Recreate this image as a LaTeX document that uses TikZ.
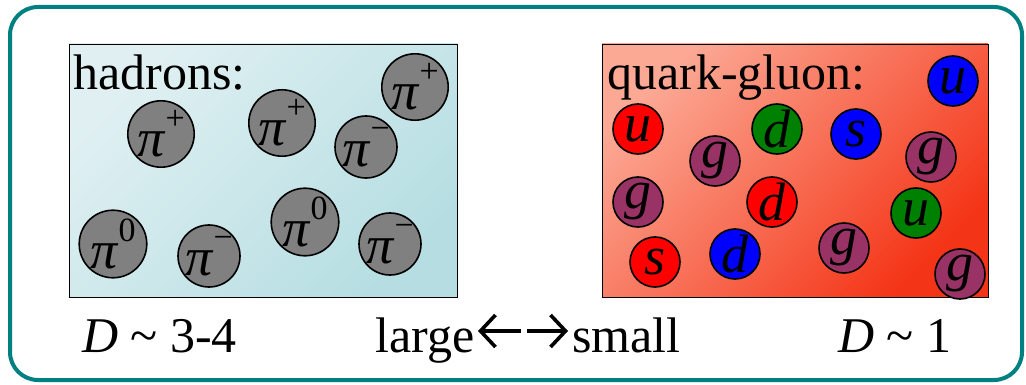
\documentclass[tikz,border=0pt]{standalone}
\usepackage{fontspec}
\setmainfont{Liberation Serif}
\usetikzlibrary{calc,arrows.meta}
\definecolor{frameteal}{RGB}{0,128,128}
\definecolor{hadlight}{RGB}{224,240,242}
\definecolor{haddark}{RGB}{182,222,226}
\definecolor{qgplight}{RGB}{251,168,148}
\definecolor{qgpdark}{RGB}{244,52,22}
\definecolor{gluon}{RGB}{153,51,102}
\definecolor{qgreen}{RGB}{0,128,0}
\definecolor{pgray}{RGB}{128,128,128}
\tikzset{
  big/.style={font=\fontsize{50}{60}\selectfont},
  pion/.style={circle, draw=black, line width=1.6pt, fill=pgray, minimum size=62pt, inner sep=0pt,
     font=\fontsize{54}{56}\selectfont},
  quark/.style={circle, draw=black, line width=1.6pt, minimum size=50pt, inner sep=0pt,
     font=\fontsize{54}{56}\selectfont\itshape},
  panel/.style={draw=black, line width=1.4pt},
  bigarrow/.style={line width=3.6pt, -{Straight Barb[length=15pt, width=32pt, line width=3.6pt]}}
}
\newcommand\pisup[1]{\textit{π}\raisebox{0.5em}{\fontsize{34}{34}\selectfont #1}}
\begin{document}
\begin{tikzpicture}[x=1pt,y=-1pt]
\useasboundingbox (0,0) rectangle (1026,385);
\fill[white] (0,0) rectangle (1026,385);
\draw[frameteal, line width=4pt, rounded corners=28pt] (10,7) rectangle (1022,380);
% left panel
\shade[top color=hadlight, bottom color=haddark, shading angle=45] (69,44) rectangle (457,297);
\node[panel, minimum width=388pt, minimum height=253pt, anchor=north west, inner sep=0pt] (hadbox) at (69,44) {};
\node[big, anchor=base west, inner sep=0pt] (hadlabel) at (73,90) {hadrons:};
\node[pion] (h1) at (161,134) {\pisup{+}};
\node[pion] (h2) at (282,123) {\pisup{+}};
\node[pion] (h3) at (415,87) {\pisup{+}};
\node[pion] (h4) at (366,147) {\pisup{−}};
\node[pion] (h5) at (113,244) {\pisup{0}};
\node[pion] (h6) at (209,256) {\pisup{−}};
\node[pion] (h7) at (305,222) {\pisup{0}};
\node[pion] (h8) at (390,244) {\pisup{−}};
% right panel
\shade[top color=qgplight, bottom color=qgpdark, shading angle=45] (602,44) rectangle (988,297);
\node[panel, minimum width=386pt, minimum height=253pt, anchor=north west, inner sep=0pt] (qgpbox) at (602,44) {};
\node[big, anchor=base west, inner sep=0pt] (qgplabel) at (607,90) {quark-gluon:};
\node[quark, fill=blue] (q1) at (953,81) {u};
\node[quark, fill=red] (q2) at (638,129) {u};
\node[quark, fill=qgreen] (q3) at (777,129) {d};
\node[quark, fill=blue] (q4) at (856,134) {s};
\node[quark, fill=gluon] (q5) at (715,161) {g};
\node[quark, fill=gluon] (q6) at (931,157) {g};
\node[quark, fill=gluon] (q7) at (638,202) {g};
\node[quark, fill=red] (q8) at (772,202) {d};
\node[quark, fill=qgreen] (q9) at (916,213) {u};
\node[quark, fill=red] (q10) at (655,262) {s};
\node[quark, fill=blue] (q11) at (735,254) {d};
\node[quark, fill=gluon] (q12) at (844,248) {g};
\node[quark, fill=gluon] (q13) at (960,274) {g};
% bottom labels
\node[big, anchor=base west, inner sep=0pt] (dleft) at (82,352) {\textit{D} \textasciitilde{} 3-4};
\node[big, anchor=base west, inner sep=0pt] (large) at (375,352) {large};
\node[big, anchor=base west, inner sep=0pt] (small) at (572,352) {small};
\node[big, anchor=base west, inner sep=0pt] (dright) at (838,352) {\textit{D} \textasciitilde{} 1};
\coordinate (lefttail) at (521,331);
\coordinate (righttail) at (527,331);
\coordinate (lefttip) at (478,331);
\coordinate (righttip) at (568,331);
\draw[bigarrow] (lefttail) -- (lefttip);
\draw[bigarrow] (righttail) -- (righttip);
\end{tikzpicture}
\end{document}
